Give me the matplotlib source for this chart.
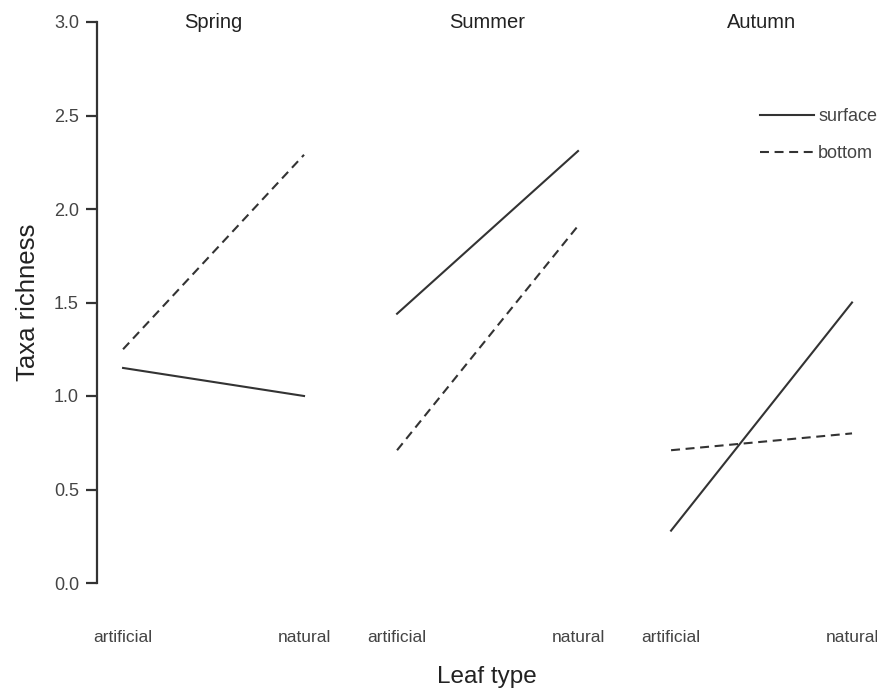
import numpy as np
import matplotlib
matplotlib.use("Agg")
import matplotlib.pyplot as plt

# Data
seasons = ["Spring", "Summer", "Autumn"]
leaf_types = ["artificial", "natural"]
surface = [[1.15, 1.00], [1.44, 2.31], [0.28, 1.50]]
bottom = [[1.25, 2.29], [0.71, 1.91], [0.71, 0.80]]
yticks = [0.0, 0.5, 1.0, 1.5, 2.0, 2.5, 3.0]

plt.rcParams['font.family'] = ['Liberation Sans', 'DejaVu Sans']

W, H = 877, 688
fig = plt.figure(figsize=(W / 100, H / 100), dpi=100)

col = "#333333"
txt = "#444444"
x = np.arange(len(leaf_types))

axes = []
for i, season in enumerate(seasons):
    left = 97 + i * 274
    ax = fig.add_axes([left / W, (H - 583) / H, 232 / W, 561 / H])
    ax.plot(x, surface[i], color=col, lw=1.5, ls="-", label="surface", clip_on=False)
    ax.plot(x, bottom[i], color=col, lw=1.5, ls=(0, (4.3, 2.7)), label="bottom", clip_on=False)
    ax.set_xlim(-0.144, 1.138)
    ax.set_ylim(0, 3)
    ax.set_xticks(x)
    ax.set_xticklabels(leaf_types, fontsize=12.5, color=txt)
    ax.tick_params(axis="x", length=0, pad=34)
    for s in ["top", "right", "bottom"]:
        ax.spines[s].set_visible(False)
    ax.text(0.5, 3.0, season, ha="center", va="center", fontsize=14.5, color="#222222")
    if i == 0:
        ax.spines["left"].set_linewidth(1.6)
        ax.spines["left"].set_color(col)
        ax.set_yticks(yticks)
        ax.set_yticklabels([f"{v:.1f}" for v in yticks], fontsize=13, color=txt)
        ax.tick_params(axis="y", length=8, width=1.6, color=col, pad=5)
        ax.set_ylabel("Taxa richness", fontsize=18.5, color="#222222", labelpad=10)
    else:
        ax.spines["left"].set_visible(False)
        ax.set_yticks([])
    ax.patch.set_alpha(0)
    axes.append(ax)

axes[1].set_xlabel("Leaf type", fontsize=17.5, color="#222222", labelpad=15)

h, l = axes[2].get_legend_handles_labels()
leg = axes[2].legend(h, l, loc="center left", bbox_to_anchor=(760 / W, 1 - 135 / H),
                     bbox_transform=fig.transFigure, frameon=False, fontsize=13,
                     handlelength=3.0, handletextpad=0.22, labelspacing=1.1,
                     borderpad=0, borderaxespad=0)
for t in leg.get_texts():
    t.set_color(txt)

fig.savefig("out.png", dpi=100)
